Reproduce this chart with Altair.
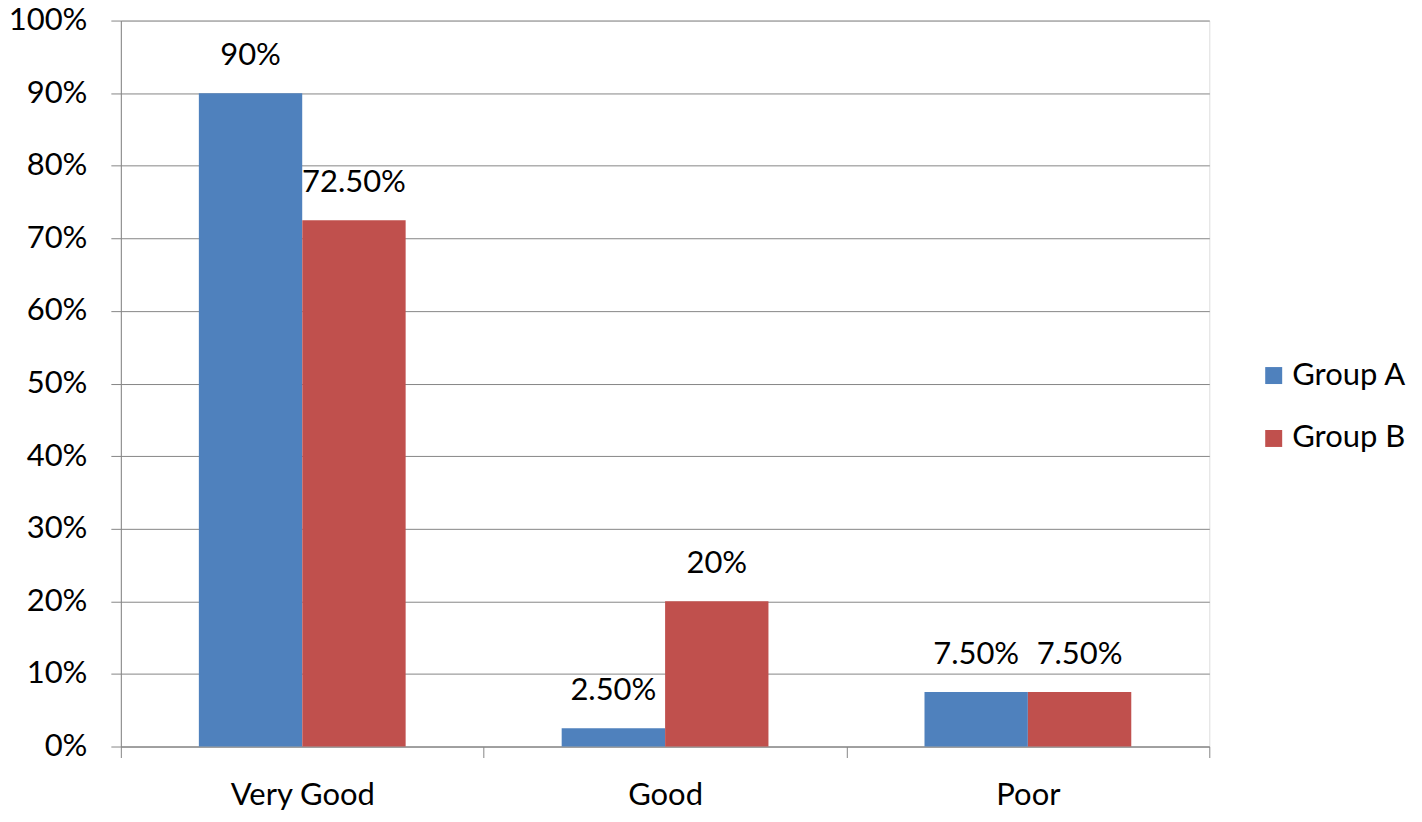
import altair as alt
import pandas as pd

categories = ["Very Good", "Good", "Poor"]
groups = ["Group A", "Group B"]
group_a = [0.90, 0.025, 0.075]
group_b = [0.725, 0.20, 0.075]
labels_a = ["90%", "2.50%", "7.50%"]
labels_b = ["72.50%", "20%", "7.50%"]

rows = []
for i, c in enumerate(categories):
    rows.append({"category": c, "group": "Group A", "value": group_a[i], "label": labels_a[i]})
    rows.append({"category": c, "group": "Group B", "value": group_b[i], "label": labels_b[i]})
df = pd.DataFrame(rows)

FONT = "Lato"
FS = 31
GRID = "#868686"

x = alt.X("category:N", sort=categories, title=None,
          scale=alt.Scale(paddingInner=0, paddingOuter=0),
          axis=alt.Axis(labelAngle=0, tickBand="extent", tickSize=11, labelPadding=23,
                        labelFontSize=FS, labelFont=FONT, labelColor="#000000",
                        domainColor=GRID, tickColor=GRID, grid=False))
xoff = alt.XOffset("group:N", sort=groups,
                   scale=alt.Scale(paddingInner=0, paddingOuter=0.754))
y = alt.Y("value:Q", title=None,
          scale=alt.Scale(domain=[0, 1], nice=False),
          axis=alt.Axis(format=".0%", values=[i / 10 for i in range(11)],
                        tickSize=10, labelPadding=24, labelFontSize=FS, labelFont=FONT,
                        labelColor="#000000", domainColor=GRID, tickColor=GRID,
                        gridColor=GRID, grid=True))

color = alt.Color("group:N", sort=groups,
                  scale=alt.Scale(domain=groups, range=["#4F81BD", "#C0504D"]),
                  legend=alt.Legend(title=None, orient="none", legendX=1139, legendY=340,
                                    padding=0, symbolType="square", symbolSize=289,
                                    symbolStrokeWidth=0, labelFontSize=FS, labelFont=FONT,
                                    labelColor="#000000", rowPadding=31, labelOffset=3))

bars = alt.Chart(df).mark_bar(size=103.5).encode(x=x, xOffset=xoff, y=y, color=color)
text = alt.Chart(df).mark_text(dy=-37, fontSize=FS, font=FONT, color="#000000",
                               baseline="middle").encode(
    x=x, xOffset=xoff, y=y, text="label:N")

chart = (bars + text).properties(
    width=1090, height=727,
    autosize=alt.AutoSizeParams(type="none"),
    padding={"left": 113, "top": 12, "right": 205, "bottom": 64},
).configure_view(stroke=None).configure(background="white")

chart.save("out.html", embed_options={"renderer": "svg", "actions": False})
